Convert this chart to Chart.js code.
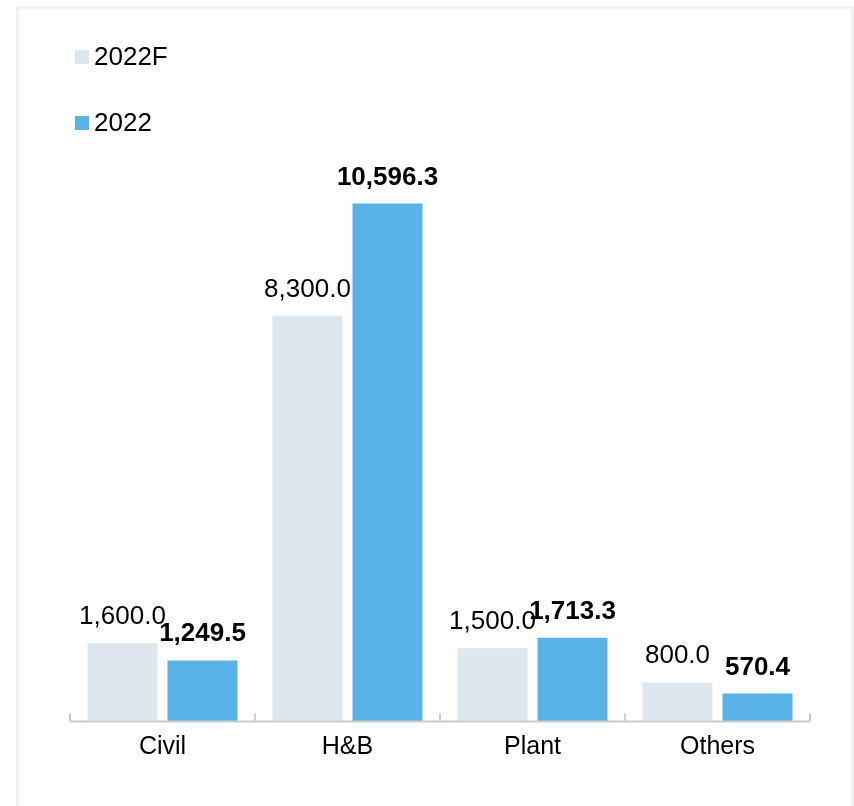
<!DOCTYPE html>
<html lang="en">
<head>
    <meta charset="UTF-8">
    <title>Revenue by segment</title>
    <script src="https://cdn.jsdelivr.net/npm/chart.js@4.4.1/dist/chart.umd.min.js"></script>
    <style>
        html, body { margin: 0; padding: 0; background: #ffffff; }
        #wrap { position: relative; width: 854px; height: 806px; overflow: hidden; }
        #frame {
            position: absolute; left: 16px; top: 6px; width: 832px; height: 830px;
            border: 3px solid #f0f0f0; box-sizing: content-box;
        }
        #chart { position: absolute; left: 0; top: 0; }
    </style>
</head>
<body>
<div id="wrap">
    <div id="frame"></div>
    <canvas id="chart" width="854" height="806"></canvas>
</div>

<script>
    const categories = ['Civil', 'H&B', 'Plant', 'Others'];
    const seriesNames = ['2022F', '2022'];
    const forecast2022 = [1600.0, 8300.0, 1500.0, 800.0];
    const actual2022 = [1249.5, 10596.3, 1713.3, 570.4];

    const FONT = '"Liberation Sans", Arial, sans-serif';
    const colors = ['#dee6f0', '#5ab3e6'];

    function fmt(v) {
        return v.toLocaleString('en-US', { minimumFractionDigits: 1, maximumFractionDigits: 1 });
    }

    // vertical legend in the top-left corner
    const legendBox = {
        id: 'legendBox',
        afterDraw(chart) {
            const ctx = chart.ctx;
            ctx.save();
            ctx.font = '26px ' + FONT;
            ctx.textBaseline = 'middle';
            chart.data.datasets.forEach((ds, i) => {
                const y = 50 + i * 66;
                ctx.fillStyle = ds.backgroundColor;
                ctx.fillRect(75, y, 14, 14);
                ctx.fillStyle = '#000';
                ctx.fillText(ds.label, 94, y + 8);
            });
            ctx.restore();
        }
    };

    // value labels above each bar, bold for the actual series
    const valueLabels = {
        id: 'valueLabels',
        afterDatasetsDraw(chart) {
            const ctx = chart.ctx;
            ctx.save();
            ctx.textAlign = 'center';
            ctx.textBaseline = 'alphabetic';
            ctx.fillStyle = '#000';
            chart.data.datasets.forEach((ds, i) => {
                ctx.font = (i === 1 ? 'bold ' : '') + '26px ' + FONT;
                chart.getDatasetMeta(i).data.forEach((bar, j) => {
                    ctx.fillText(fmt(ds.data[j]), bar.x, bar.y - 19);
                });
            });
            ctx.restore();
        }
    };

    // baseline with short inward ticks between categories
    const baseAxis = {
        id: 'baseAxis',
        afterDraw(chart) {
            const ctx = chart.ctx;
            const x = chart.scales.x;
            const area = chart.chartArea;
            const y = area.bottom;
            const step = x.getPixelForValue(1) - x.getPixelForValue(0);
            ctx.save();
            ctx.strokeStyle = '#cccccc';
            ctx.lineWidth = 2;
            ctx.beginPath();
            ctx.moveTo(area.left, y);
            ctx.lineTo(area.right, y);
            for (let i = 0; i <= categories.length; i++) {
                const px = Math.round(x.getPixelForValue(0) - step / 2 + i * step);
                ctx.moveTo(px, y);
                ctx.lineTo(px, y - 8);
            }
            ctx.stroke();
            ctx.restore();
        }
    };

    new Chart(document.getElementById('chart'), {
        type: 'bar',
        data: {
            labels: categories,
            datasets: [
                { label: seriesNames[0], data: forecast2022, backgroundColor: colors[0] },
                { label: seriesNames[1], data: actual2022, backgroundColor: colors[1] }
            ]
        },
        options: {
            responsive: false,
            animation: false,
            categoryPercentage: 0.865,
            barPercentage: 0.875,
            layout: { padding: { top: 135, left: 70, right: 44, bottom: 0 } },
            plugins: {
                legend: { display: false },
                tooltip: { enabled: false }
            },
            scales: {
                x: {
                    grid: { display: false, drawTicks: false },
                    border: { display: false },
                    ticks: { color: '#000', padding: 11, font: { family: FONT, size: 25 } },
                    afterFit(scale) { scale.height = 84.5; }
                },
                y: {
                    display: false,
                    min: 0,
                    max: 12000
                }
            }
        },
        plugins: [legendBox, valueLabels, baseAxis]
    });
</script>
</body>
</html>
